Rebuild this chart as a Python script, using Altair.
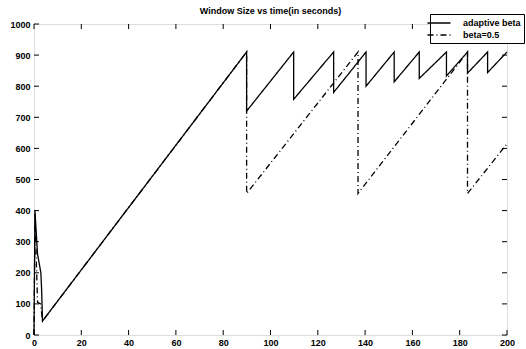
import altair as alt
import pandas as pd

# Adaptive beta series (solid)
t_adaptive = [0, 0.4, 1.5, 2.9, 3.2, 3.6, 89.9, 89.9, 109.8, 109.8, 126.7, 126.7,
              140.4, 140.4, 152.3, 152.3, 162.9, 162.9, 174.4, 174.4, 183.3, 183.3,
              191.8, 191.8, 200]
w_adaptive = [0, 400, 260, 200, 150, 45, 910, 720, 910, 758, 910, 780,
              910, 800, 910, 814, 910, 825, 910, 833, 910, 842,
              910, 844, 910]

# beta = 0.5 series (dash-dot)
t_half = [0, 0.4, 1.5, 2.8, 3.6, 89.9, 89.9, 137.0, 137.0, 183.3, 183.3, 200]
w_half = [0, 390, 105, 100, 45, 910, 455, 910, 455, 910, 455, 615]

series_names = ["adaptive beta", "beta=0.5"]
x_ticks = [0, 20, 40, 60, 80, 100, 120, 140, 160, 180, 200]
y_ticks = [0, 100, 200, 300, 400, 500, 600, 700, 800, 900, 1000]

rows = []
for i, (t, w) in enumerate(zip(t_adaptive, w_adaptive)):
    rows.append({"t": t, "w": w, "series": series_names[0], "i": i})
for i, (t, w) in enumerate(zip(t_half, w_half)):
    rows.append({"t": t, "w": w, "series": series_names[1], "i": i})
df = pd.DataFrame(rows)

W, H = 473, 311
FONT = "Liberation Sans"

xscale = alt.Scale(domain=[0, 200], nice=False, zero=False)
yscale = alt.Scale(domain=[0, 1000], nice=False)

xaxis = alt.Axis(values=x_ticks, title=None, ticks=False, grid=False,
                 domain=False, labelPadding=3, labelFontSize=9,
                 labelOverlap=False, labelFlush=False, format="d",
                 labelFontWeight="bold", labelFont=FONT, labelColor="black")
yaxis = alt.Axis(values=y_ticks, title=None, ticks=False, grid=False,
                 domain=False, labelPadding=4, labelFontSize=9,
                 labelOverlap=False, labelFlush=False, format="d",
                 labelFontWeight="bold", labelFont=FONT, labelColor="black")

lines = alt.Chart(df).mark_line(strokeWidth=1.3, color="black").encode(
    x=alt.X("t:Q", scale=xscale, axis=xaxis),
    y=alt.Y("w:Q", scale=yscale, axis=yaxis),
    strokeDash=alt.StrokeDash(
        "series:N",
        scale=alt.Scale(domain=series_names, range=[[1, 0], [6, 3, 1, 3]]),
        legend=alt.Legend(title=None, orient="none", legendX=396, legendY=-10,
                          strokeColor="black", fillColor="white", padding=3,
                          symbolType="M-2.3,0H2.3", symbolStrokeColor="black",
                          symbolSize=100, symbolStrokeWidth=1.3,
                          labelFontSize=9, labelFont=FONT, labelFontWeight="bold",
                          labelColor="black", rowPadding=1, labelOffset=18,
                          cornerRadius=0),
    ),
    order="i:Q",
)

xt = pd.DataFrame({"t": x_ticks})
yt = pd.DataFrame({"w": y_ticks})

bottom_ticks = alt.Chart(xt).mark_rule(color="black", strokeWidth=1).encode(
    x=alt.X("t:Q", scale=xscale, axis=xaxis), y=alt.value(H), y2=alt.value(H - 5))
top_ticks = alt.Chart(xt).mark_rule(color="black", strokeWidth=1).encode(
    x=alt.X("t:Q", scale=xscale, axis=xaxis), y=alt.value(0), y2=alt.value(5))
left_ticks = alt.Chart(yt).mark_rule(color="black", strokeWidth=1).encode(
    y=alt.Y("w:Q", scale=yscale, axis=yaxis), x=alt.value(0), x2=alt.value(5))
right_ticks = alt.Chart(yt).mark_rule(color="black", strokeWidth=1).encode(
    y=alt.Y("w:Q", scale=yscale, axis=yaxis), x=alt.value(W), x2=alt.value(W - 5))

chart = alt.layer(lines, bottom_ticks, top_ticks, left_ticks, right_ticks).properties(
    width=W, height=H,
    title=alt.TitleParams("Window Size vs time(in seconds)", fontSize=9,
                          font=FONT, fontWeight="bold", color="black",
                          anchor="middle", offset=-2),
    autosize=alt.AutoSizeParams(type="none"),
    padding={"left": 34, "top": 24, "right": 19, "bottom": 14},
).configure_view(stroke="black", strokeWidth=1.2).configure(background="white")

chart.save("out.html", embed_options={"renderer": "svg", "actions": False})
